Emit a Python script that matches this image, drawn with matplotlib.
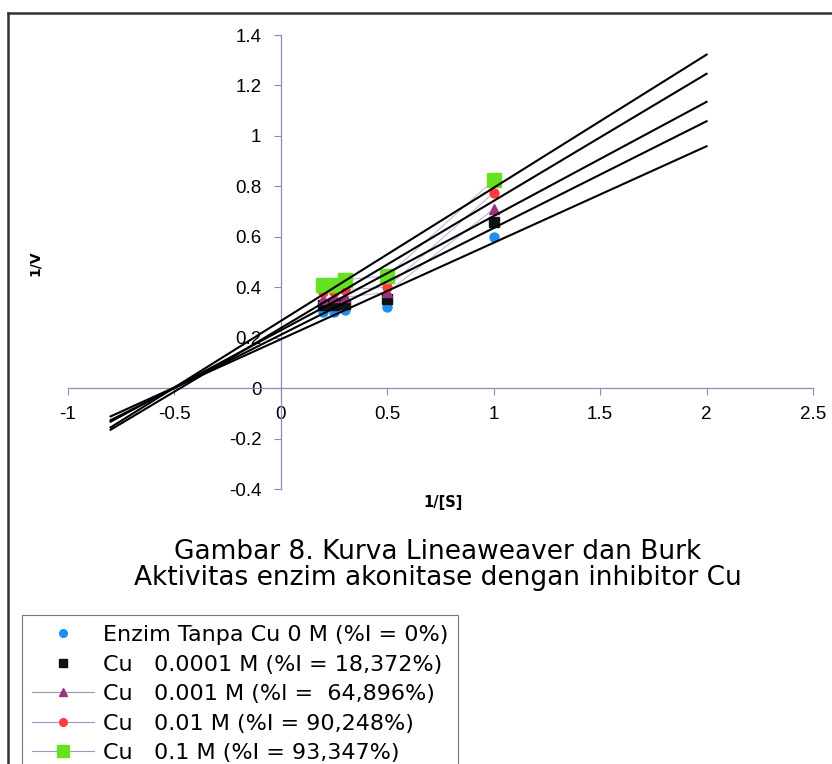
import numpy as np
import matplotlib.pyplot as plt
from matplotlib.lines import Line2D

# data (Lineweaver-Burk)
x_inv_s = [0.2, 0.25, 0.3, 0.5, 1.0]
v_tanpa_cu = [0.30, 0.30, 0.31, 0.32, 0.60]
v_cu_0001 = [0.33, 0.33, 0.335, 0.355, 0.66]
v_cu_001 = [0.355, 0.36, 0.36, 0.38, 0.71]
v_cu_01 = [0.38, 0.38, 0.39, 0.40, 0.775]
v_cu_1 = [0.41, 0.41, 0.43, 0.445, 0.825]

labels = ['Enzim Tanpa Cu 0 M (%I = 0%)',
          'Cu   0.0001 M (%I = 18,372%)',
          'Cu   0.001 M (%l =  64,896%)',
          'Cu   0.01 M (%I = 90,248%)',
          'Cu   0.1 M (%I = 93,347%)']

x_ticks = [-1, -0.5, 0, 0.5, 1, 1.5, 2, 2.5]
y_ticks = [-0.4, -0.2, 0, 0.2, 0.4, 0.6, 0.8, 1, 1.2, 1.4]
trend_range = [-0.8, 2.0]

series = [v_tanpa_cu, v_cu_0001, v_cu_001, v_cu_01, v_cu_1]
# marker, warna, ukuran, garis penghubung
gaya = [('o', '#1f8fef', 6.5, False),
        ('s', '#111111', 6.5, False),
        ('^', '#993380', 7.5, True),
        ('o', '#ff3b3b', 6.5, True),
        ('s', '#66e020', 10, True)]

fig = plt.figure(figsize=(8.32, 7.64), dpi=100)
ax = fig.add_axes([68 / 832, 1 - 489 / 764, (813 - 68) / 832, (489 - 35) / 764])

x = np.array(x_inv_s)
handles = []
for y, (m, c, ms, garis) in zip(series, gaya):
    ls = '-' if garis else 'none'
    # garis tipis penghubung titik
    if garis:
        ax.plot(x, y, '-', color='#b4b4dc', lw=0.7, zorder=2)
    ax.plot(x, y, m, color=c, ms=ms, mec=c, ls='none', zorder=3)
    handles.append(Line2D([], [], marker=m, color='#9a9ac0' if garis else c,
                          mfc=c, mec=c, ms=ms * 0.85, ls=ls, lw=0.8))
    # garis trend (regresi linier)
    k, b = np.polyfit(x, y, 1)
    xt = np.array(trend_range)
    ax.plot(xt, k * xt + b, color='black', lw=1.5, zorder=4)

ax.set_xlim(-1, 2.5)
ax.set_ylim(-0.4, 1.4)
for s in ['top', 'right']:
    ax.spines[s].set_visible(False)
ax.spines['left'].set_position(('data', 0))
ax.spines['bottom'].set_position(('data', 0))
for s in ['left', 'bottom']:
    ax.spines[s].set_color('#8c8cb8')
    ax.spines[s].set_linewidth(0.9)

ax.set_xticks(x_ticks)
ax.set_yticks(y_ticks)
ax.set_xticklabels(['%g' % t for t in x_ticks])
ax.set_yticklabels(['%g' % t for t in y_ticks])
ax.tick_params(direction='out', length=5, color='#8c8cb8', labelsize=13.5)
ax.tick_params(axis='x', pad=8)
ax.tick_params(axis='y', pad=9)
for t in ax.get_xticklabels() + ax.get_yticklabels():
    t.set_family('Liberation Sans')

fig.text(35 / 832, 1 - 263 / 764, '1/V', rotation=90, fontsize=10,
         fontweight='bold', ha='center', va='center')
fig.text(443 / 832, 1 - 502 / 764, '1/[S]', fontsize=10.5,
         fontweight='bold', ha='center', va='center')
fig.text(438 / 832, 1 - 565 / 764,
         'Gambar 8. Kurva Lineaweaver dan Burk\nAktivitas enzim akonitase dengan inhibitor Cu',
         fontsize=19, family='DejaVu Sans', ha='center', va='center',
         linespacing=1.0)

leg = fig.legend(handles, labels, loc='upper left',
                 bbox_to_anchor=(22 / 832, 1 - 615 / 764),
                 prop={'family': 'DejaVu Sans', 'size': 16},
                 handlelength=2.8, handletextpad=0.4,
                 labelspacing=0.43, borderpad=0.45, fancybox=False,
                 framealpha=1, edgecolor='#777777', borderaxespad=0)
leg.get_frame().set_linewidth(0.8)

# bingkai luar gambar
fig.add_artist(Line2D([8 / 832, 1], [1 - 13 / 764] * 2, color='#333333', lw=1.8))
fig.add_artist(Line2D([8 / 832] * 2, [0, 1 - 13 / 764], color='#333333', lw=1.8))

fig.savefig('out.png', dpi=100)
